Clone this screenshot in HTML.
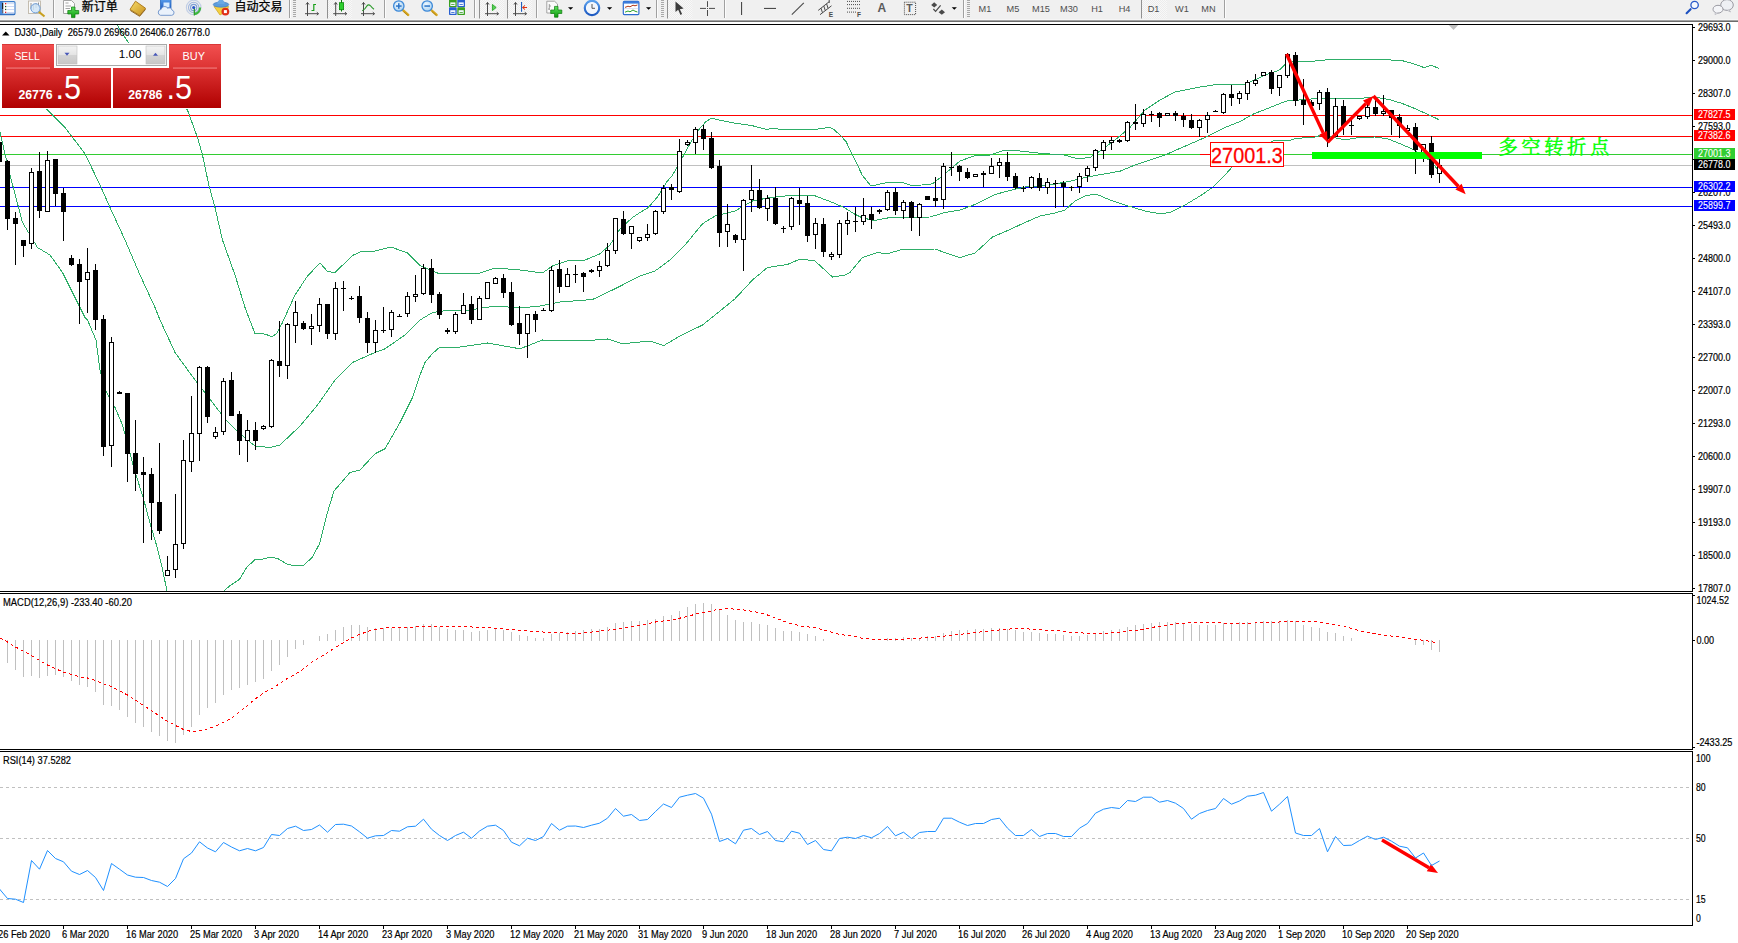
<!DOCTYPE html><html><head><meta charset="utf-8"><title>DJ30 Daily</title>
<style>html,body{margin:0;padding:0;background:#fff;overflow:hidden}svg{display:block}text{font-family:"Liberation Sans","Noto Sans CJK SC",sans-serif}.s{font-size:10px;fill:#000;stroke:#000;stroke-width:0.18px}.w{font-size:10px;fill:#fff;stroke:#fff;stroke-width:0.1px}</style></head><body>
<svg width="1738" height="943" viewBox="0 0 1738 943">
<defs>
<linearGradient id="tb" x1="0" y1="0" x2="0" y2="1"><stop offset="0" stop-color="#7e7e7e"/><stop offset="1" stop-color="#c4c4c4"/></linearGradient>
<linearGradient id="r1" x1="0" y1="0" x2="0" y2="1"><stop offset="0" stop-color="#f25050"/><stop offset="1" stop-color="#dc3232"/></linearGradient>
<linearGradient id="r2" x1="0" y1="0" x2="0" y2="1"><stop offset="0" stop-color="#dc3232"/><stop offset="1" stop-color="#b00000"/></linearGradient>
<linearGradient id="gb" x1="0" y1="0" x2="0" y2="1"><stop offset="0" stop-color="#f4f4f4"/><stop offset="0.5" stop-color="#e4e4e4"/><stop offset="0.5" stop-color="#d4d4d4"/><stop offset="1" stop-color="#c8c8c8"/></linearGradient>
<clipPath id="cm"><rect x="0" y="25" width="1692" height="566"/></clipPath>
</defs>
<rect width="1738" height="943" fill="#fff"/>
<g clip-path="url(#cm)" shape-rendering="crispEdges">
<rect x="0" y="115" width="1692" height="1" fill="#ff0000"/>
<rect x="0" y="136" width="1692" height="1" fill="#ff0000"/>
<rect x="0" y="154" width="1692" height="1" fill="#32cd32"/>
<rect x="0" y="165" width="1692" height="1" fill="#c0c0c0"/>
<rect x="0" y="187" width="1692" height="1" fill="#0000ff"/>
<rect x="0" y="206" width="1692" height="1" fill="#0000ff"/>
<polyline points="112.0,16.0 117.0,24.7 127.5,41.4 150.0,67.0 170.0,90.0 187.5,110.0 197.5,137.5 202.5,155.0 208.8,185.0 215.0,207.5 222.5,240.0 235.0,275.0 245.0,307.5 255.0,333.8 261.0,333.0 267.5,335.0 272.0,337.0 277.0,333.0 282.5,322.5 295.0,295.0 307.5,276.0 320.0,263.0 327.5,271.5 335.0,272.5 352.5,255.5 360.0,252.0 375.0,251.0 391.0,247.0 407.5,253.0 420.0,265.5 430.0,270.0 440.0,274.0 460.0,273.0 480.0,273.0 495.0,268.0 520.0,270.0 542.5,273.0 552.5,266.0 570.0,260.0 585.0,260.0 600.0,253.8 610.0,245.0 620.0,228.8 632.5,217.5 640.0,212.5 648.0,207.8 657.5,197.0 667.0,181.5 672.3,175.5 677.7,166.0 683.0,156.6 691.0,141.8 699.3,129.0 706.0,121.5 712.0,118.0 715.5,119.3 734.3,123.0 751.9,125.6 766.7,129.4 772.0,128.3 781.5,129.4 815.2,129.4 830.0,127.2 834.0,129.6 840.8,135.7 846.2,141.8 851.6,153.2 857.0,164.0 862.4,175.5 871.0,186.0 887.5,182.5 902.5,182.5 912.5,186.0 932.5,183.8 945.0,173.8 960.0,161.0 975.0,155.5 990.0,155.0 1005.0,150.0 1020.0,151.0 1045.0,153.8 1062.5,154.5 1077.5,158.8 1090.0,157.5 1100.0,151.0 1115.0,140.0 1130.0,127.5 1145.0,110.0 1160.0,100.0 1175.0,92.0 1200.0,87.0 1220.0,84.0 1245.0,84.0 1253.5,80.4 1267.0,74.4 1279.0,70.3 1284.5,65.0 1292.0,62.0 1299.3,61.3 1320.9,60.9 1327.6,59.5 1374.8,59.3 1401.7,60.5 1415.2,64.3 1424.0,67.6 1431.4,65.2 1439.2,68.6" fill="none" stroke="#2eae68" stroke-width="1" />
<polyline points="3.0,78.0 20.0,88.0 35.0,99.0 47.5,110.0 65.0,127.5 85.0,153.8 100.0,185.0 110.0,207.5 125.0,240.0 140.0,275.0 155.0,307.5 160.0,320.0 167.0,335.0 175.0,352.5 195.0,380.0 212.5,402.5 225.0,418.8 240.0,433.8 255.0,446.0 270.0,447.5 280.0,445.0 300.0,426.0 317.5,405.0 335.0,380.0 352.5,362.5 375.0,352.5 385.0,348.8 405.0,335.0 420.0,320.0 432.5,312.5 450.0,310.0 470.0,310.0 495.0,306.0 520.0,308.0 540.0,306.0 560.0,302.0 592.5,299.5 615.0,288.8 640.0,276.0 655.0,271.0 670.0,260.0 685.0,245.0 702.5,223.8 715.0,216.0 735.0,211.0 752.5,201.0 770.0,197.5 795.0,195.0 815.0,195.8 832.5,202.5 845.0,208.0 854.5,214.0 862.5,218.0 875.0,220.5 890.0,217.5 907.5,217.5 930.0,217.0 945.0,212.5 960.0,210.0 975.0,204.5 995.0,194.5 1010.0,190.5 1025.0,187.0 1050.0,185.0 1070.0,181.2 1085.0,177.5 1105.0,173.8 1120.0,171.2 1135.0,165.0 1150.0,160.0 1165.0,155.0 1185.0,146.2 1205.0,137.5 1225.0,127.5 1240.0,121.5 1253.5,114.0 1267.0,108.7 1280.4,103.3 1287.0,101.0 1315.5,98.6 1334.3,98.2 1354.6,98.6 1374.8,97.3 1388.2,99.3 1401.7,103.3 1415.2,108.7 1428.7,114.8 1439.2,119.8" fill="none" stroke="#2eae68" stroke-width="1" />
<polyline points="0.0,132.5 10.0,175.0 22.5,222.5 37.5,247.5 50.0,255.0 62.5,272.5 75.0,297.5 85.0,317.5 87.5,320.0 96.0,340.0 100.0,370.0 106.0,391.0 115.0,407.5 122.5,425.0 135.0,472.0 143.0,497.0 151.0,526.6 156.6,545.5 162.0,567.0 167.0,591.0 175.0,640.0 215.0,640.0 224.0,591.0 229.4,586.0 239.5,579.4 247.0,567.0 255.7,559.0 263.0,559.0 271.0,557.0 278.0,558.7 287.0,564.0 295.4,566.0 303.5,565.4 312.0,557.6 319.7,543.5 326.4,516.0 334.0,491.0 350.0,472.5 360.0,470.0 375.0,453.8 385.0,448.8 400.0,422.5 412.5,397.5 420.0,375.0 425.0,362.5 432.0,354.0 438.8,348.0 460.0,347.0 487.5,343.0 520.0,348.8 542.5,340.0 560.0,340.5 582.5,341.0 607.5,339.0 622.5,343.8 650.0,341.0 663.8,345.5 680.0,336.0 702.5,325.0 720.0,311.0 735.0,298.8 752.5,280.0 767.5,267.5 787.5,264.5 800.0,259.0 815.0,261.0 832.5,277.0 845.0,275.0 850.0,272.5 862.5,257.5 877.5,252.5 887.5,253.8 900.0,250.0 935.0,249.0 950.0,254.5 960.0,257.5 975.0,253.0 992.5,237.0 1010.0,229.5 1025.0,222.5 1040.0,216.0 1055.0,213.0 1065.0,210.0 1075.0,201.0 1085.0,196.0 1096.0,194.0 1110.0,200.0 1125.0,205.0 1145.0,211.0 1160.0,213.8 1170.0,212.5 1185.0,205.0 1200.0,196.0 1212.5,187.5 1225.0,175.0 1235.0,163.8 1250.0,155.0 1265.0,145.0 1275.0,140.0 1284.5,140.5 1287.0,141.0 1296.6,138.4 1315.5,137.0 1323.6,134.3 1334.3,137.7 1345.0,139.7 1361.3,137.3 1374.8,137.0 1388.2,139.0 1401.7,144.4 1413.8,149.7 1429.0,160.0 1434.0,165.0 1439.0,171.0" fill="none" stroke="#2eae68" stroke-width="1" />
<rect x="-1" y="140" width="1" height="25" fill="#000"/>
<rect x="-3" y="142" width="5" height="20" fill="#000"/>
<rect x="7" y="160" width="1" height="70" fill="#000"/>
<rect x="5" y="161" width="5" height="58" fill="#000"/>
<rect x="15" y="212" width="1" height="53" fill="#000"/>
<rect x="13" y="218" width="5" height="6" fill="#000"/>
<rect x="23" y="240" width="1" height="17" fill="#000"/>
<rect x="21" y="240" width="5" height="6" fill="#000"/>
<rect x="31" y="168" width="1" height="81" fill="#000"/>
<rect x="29" y="172" width="5" height="72" fill="#000"/>
<rect x="30" y="173" width="3" height="70" fill="#fff"/>
<rect x="39" y="152" width="1" height="66" fill="#000"/>
<rect x="37" y="171" width="5" height="40" fill="#000"/>
<rect x="47" y="151" width="1" height="61" fill="#000"/>
<rect x="45" y="160" width="5" height="52" fill="#000"/>
<rect x="46" y="161" width="3" height="50" fill="#fff"/>
<rect x="55" y="159" width="1" height="47" fill="#000"/>
<rect x="53" y="159" width="5" height="35" fill="#000"/>
<rect x="63" y="188" width="1" height="53" fill="#000"/>
<rect x="61" y="193" width="5" height="19" fill="#000"/>
<rect x="71" y="255" width="1" height="11" fill="#000"/>
<rect x="69" y="258" width="5" height="7" fill="#000"/>
<rect x="79" y="259" width="1" height="65" fill="#000"/>
<rect x="77" y="264" width="5" height="18" fill="#000"/>
<rect x="87" y="248" width="1" height="65" fill="#000"/>
<rect x="85" y="272" width="5" height="8" fill="#000"/>
<rect x="86" y="273" width="3" height="6" fill="#fff"/>
<rect x="95" y="264" width="1" height="66" fill="#000"/>
<rect x="93" y="270" width="5" height="50" fill="#000"/>
<rect x="103" y="315" width="1" height="141" fill="#000"/>
<rect x="101" y="319" width="5" height="128" fill="#000"/>
<rect x="111" y="337" width="1" height="130" fill="#000"/>
<rect x="109" y="342" width="5" height="104" fill="#000"/>
<rect x="110" y="343" width="3" height="102" fill="#fff"/>
<rect x="119" y="391" width="1" height="3" fill="#000"/>
<rect x="117" y="392" width="5" height="2" fill="#000"/>
<rect x="127" y="393" width="1" height="89" fill="#000"/>
<rect x="125" y="393" width="5" height="61" fill="#000"/>
<rect x="135" y="420" width="1" height="71" fill="#000"/>
<rect x="133" y="453" width="5" height="21" fill="#000"/>
<rect x="143" y="457" width="1" height="86" fill="#000"/>
<rect x="141" y="472" width="5" height="3" fill="#000"/>
<rect x="151" y="468" width="1" height="72" fill="#000"/>
<rect x="149" y="474" width="5" height="29" fill="#000"/>
<rect x="159" y="443" width="1" height="91" fill="#000"/>
<rect x="157" y="502" width="5" height="29" fill="#000"/>
<rect x="167" y="556" width="1" height="20" fill="#000"/>
<rect x="165" y="570" width="5" height="6" fill="#000"/>
<rect x="166" y="571" width="3" height="4" fill="#fff"/>
<rect x="175" y="494" width="1" height="84" fill="#000"/>
<rect x="173" y="544" width="5" height="26" fill="#000"/>
<rect x="174" y="545" width="3" height="24" fill="#fff"/>
<rect x="183" y="440" width="1" height="109" fill="#000"/>
<rect x="181" y="460" width="5" height="84" fill="#000"/>
<rect x="182" y="461" width="3" height="82" fill="#fff"/>
<rect x="191" y="396" width="1" height="76" fill="#000"/>
<rect x="189" y="433" width="5" height="29" fill="#000"/>
<rect x="190" y="434" width="3" height="27" fill="#fff"/>
<rect x="199" y="366" width="1" height="95" fill="#000"/>
<rect x="197" y="367" width="5" height="67" fill="#000"/>
<rect x="198" y="368" width="3" height="65" fill="#fff"/>
<rect x="207" y="366" width="1" height="57" fill="#000"/>
<rect x="205" y="367" width="5" height="50" fill="#000"/>
<rect x="215" y="427" width="1" height="12" fill="#000"/>
<rect x="213" y="432" width="5" height="5" fill="#000"/>
<rect x="214" y="433" width="3" height="3" fill="#fff"/>
<rect x="223" y="378" width="1" height="57" fill="#000"/>
<rect x="221" y="381" width="5" height="51" fill="#000"/>
<rect x="222" y="382" width="3" height="49" fill="#fff"/>
<rect x="231" y="372" width="1" height="44" fill="#000"/>
<rect x="229" y="380" width="5" height="36" fill="#000"/>
<rect x="239" y="411" width="1" height="44" fill="#000"/>
<rect x="237" y="414" width="5" height="27" fill="#000"/>
<rect x="247" y="420" width="1" height="42" fill="#000"/>
<rect x="245" y="430" width="5" height="11" fill="#000"/>
<rect x="246" y="431" width="3" height="9" fill="#fff"/>
<rect x="255" y="422" width="1" height="28" fill="#000"/>
<rect x="253" y="430" width="5" height="11" fill="#000"/>
<rect x="263" y="425" width="1" height="5" fill="#000"/>
<rect x="261" y="426" width="5" height="3" fill="#000"/>
<rect x="262" y="427" width="3" height="1" fill="#fff"/>
<rect x="271" y="359" width="1" height="69" fill="#000"/>
<rect x="269" y="360" width="5" height="67" fill="#000"/>
<rect x="270" y="361" width="3" height="65" fill="#fff"/>
<rect x="279" y="321" width="1" height="56" fill="#000"/>
<rect x="277" y="361" width="5" height="5" fill="#000"/>
<rect x="287" y="323" width="1" height="56" fill="#000"/>
<rect x="285" y="324" width="5" height="42" fill="#000"/>
<rect x="286" y="325" width="3" height="40" fill="#fff"/>
<rect x="295" y="301" width="1" height="42" fill="#000"/>
<rect x="293" y="312" width="5" height="14" fill="#000"/>
<rect x="294" y="313" width="3" height="12" fill="#fff"/>
<rect x="303" y="321" width="1" height="9" fill="#000"/>
<rect x="301" y="323" width="5" height="6" fill="#000"/>
<rect x="311" y="314" width="1" height="31" fill="#000"/>
<rect x="309" y="326" width="5" height="3" fill="#000"/>
<rect x="310" y="327" width="3" height="1" fill="#fff"/>
<rect x="319" y="298" width="1" height="34" fill="#000"/>
<rect x="317" y="304" width="5" height="22" fill="#000"/>
<rect x="318" y="305" width="3" height="20" fill="#fff"/>
<rect x="327" y="304" width="1" height="35" fill="#000"/>
<rect x="325" y="304" width="5" height="30" fill="#000"/>
<rect x="335" y="282" width="1" height="58" fill="#000"/>
<rect x="333" y="288" width="5" height="46" fill="#000"/>
<rect x="334" y="289" width="3" height="44" fill="#fff"/>
<rect x="343" y="281" width="1" height="30" fill="#000"/>
<rect x="341" y="288" width="5" height="1" fill="#000"/>
<rect x="351" y="296" width="1" height="4" fill="#000"/>
<rect x="349" y="298" width="5" height="1" fill="#000"/>
<rect x="359" y="286" width="1" height="37" fill="#000"/>
<rect x="357" y="296" width="5" height="22" fill="#000"/>
<rect x="367" y="312" width="1" height="41" fill="#000"/>
<rect x="365" y="318" width="5" height="25" fill="#000"/>
<rect x="375" y="320" width="1" height="33" fill="#000"/>
<rect x="373" y="330" width="5" height="13" fill="#000"/>
<rect x="374" y="331" width="3" height="11" fill="#fff"/>
<rect x="383" y="307" width="1" height="26" fill="#000"/>
<rect x="381" y="330" width="5" height="1" fill="#000"/>
<rect x="391" y="310" width="1" height="27" fill="#000"/>
<rect x="389" y="312" width="5" height="18" fill="#000"/>
<rect x="390" y="313" width="3" height="16" fill="#fff"/>
<rect x="399" y="314" width="1" height="2" fill="#000"/>
<rect x="397" y="316" width="5" height="1" fill="#000"/>
<rect x="407" y="292" width="1" height="25" fill="#000"/>
<rect x="405" y="296" width="5" height="18" fill="#000"/>
<rect x="406" y="297" width="3" height="16" fill="#fff"/>
<rect x="415" y="275" width="1" height="27" fill="#000"/>
<rect x="413" y="294" width="5" height="3" fill="#000"/>
<rect x="414" y="295" width="3" height="1" fill="#fff"/>
<rect x="423" y="264" width="1" height="31" fill="#000"/>
<rect x="421" y="268" width="5" height="26" fill="#000"/>
<rect x="422" y="269" width="3" height="24" fill="#fff"/>
<rect x="431" y="259" width="1" height="44" fill="#000"/>
<rect x="429" y="268" width="5" height="27" fill="#000"/>
<rect x="439" y="292" width="1" height="27" fill="#000"/>
<rect x="437" y="294" width="5" height="21" fill="#000"/>
<rect x="447" y="328" width="1" height="6" fill="#000"/>
<rect x="445" y="330" width="5" height="2" fill="#000"/>
<rect x="455" y="312" width="1" height="22" fill="#000"/>
<rect x="453" y="314" width="5" height="18" fill="#000"/>
<rect x="454" y="315" width="3" height="16" fill="#fff"/>
<rect x="463" y="293" width="1" height="21" fill="#000"/>
<rect x="461" y="305" width="5" height="9" fill="#000"/>
<rect x="462" y="306" width="3" height="7" fill="#fff"/>
<rect x="471" y="296" width="1" height="28" fill="#000"/>
<rect x="469" y="304" width="5" height="16" fill="#000"/>
<rect x="479" y="296" width="1" height="24" fill="#000"/>
<rect x="477" y="298" width="5" height="22" fill="#000"/>
<rect x="478" y="299" width="3" height="20" fill="#fff"/>
<rect x="487" y="282" width="1" height="17" fill="#000"/>
<rect x="485" y="282" width="5" height="17" fill="#000"/>
<rect x="486" y="283" width="3" height="15" fill="#fff"/>
<rect x="495" y="277" width="1" height="7" fill="#000"/>
<rect x="493" y="278" width="5" height="6" fill="#000"/>
<rect x="494" y="279" width="3" height="4" fill="#fff"/>
<rect x="503" y="274" width="1" height="24" fill="#000"/>
<rect x="501" y="278" width="5" height="15" fill="#000"/>
<rect x="511" y="282" width="1" height="44" fill="#000"/>
<rect x="509" y="292" width="5" height="33" fill="#000"/>
<rect x="519" y="306" width="1" height="39" fill="#000"/>
<rect x="517" y="323" width="5" height="11" fill="#000"/>
<rect x="527" y="314" width="1" height="44" fill="#000"/>
<rect x="525" y="314" width="5" height="20" fill="#000"/>
<rect x="526" y="315" width="3" height="18" fill="#fff"/>
<rect x="535" y="311" width="1" height="21" fill="#000"/>
<rect x="533" y="314" width="5" height="6" fill="#000"/>
<rect x="543" y="308" width="1" height="2" fill="#000"/>
<rect x="541" y="310" width="5" height="1" fill="#000"/>
<rect x="551" y="266" width="1" height="46" fill="#000"/>
<rect x="549" y="270" width="5" height="41" fill="#000"/>
<rect x="550" y="271" width="3" height="39" fill="#fff"/>
<rect x="559" y="260" width="1" height="33" fill="#000"/>
<rect x="557" y="269" width="5" height="18" fill="#000"/>
<rect x="567" y="268" width="1" height="19" fill="#000"/>
<rect x="565" y="274" width="5" height="13" fill="#000"/>
<rect x="566" y="275" width="3" height="11" fill="#fff"/>
<rect x="575" y="265" width="1" height="18" fill="#000"/>
<rect x="573" y="274" width="5" height="1" fill="#000"/>
<rect x="583" y="272" width="1" height="20" fill="#000"/>
<rect x="581" y="273" width="5" height="4" fill="#000"/>
<rect x="591" y="269" width="1" height="4" fill="#000"/>
<rect x="589" y="270" width="5" height="2" fill="#000"/>
<rect x="599" y="261" width="1" height="16" fill="#000"/>
<rect x="597" y="266" width="5" height="5" fill="#000"/>
<rect x="598" y="267" width="3" height="3" fill="#fff"/>
<rect x="607" y="243" width="1" height="24" fill="#000"/>
<rect x="605" y="250" width="5" height="16" fill="#000"/>
<rect x="606" y="251" width="3" height="14" fill="#fff"/>
<rect x="615" y="218" width="1" height="36" fill="#000"/>
<rect x="613" y="218" width="5" height="33" fill="#000"/>
<rect x="614" y="219" width="3" height="31" fill="#fff"/>
<rect x="623" y="211" width="1" height="24" fill="#000"/>
<rect x="621" y="219" width="5" height="15" fill="#000"/>
<rect x="631" y="226" width="1" height="23" fill="#000"/>
<rect x="629" y="226" width="5" height="8" fill="#000"/>
<rect x="630" y="227" width="3" height="6" fill="#fff"/>
<rect x="639" y="237" width="1" height="5" fill="#000"/>
<rect x="637" y="237" width="5" height="4" fill="#000"/>
<rect x="638" y="238" width="3" height="2" fill="#fff"/>
<rect x="647" y="224" width="1" height="17" fill="#000"/>
<rect x="645" y="234" width="5" height="4" fill="#000"/>
<rect x="646" y="235" width="3" height="2" fill="#fff"/>
<rect x="655" y="210" width="1" height="25" fill="#000"/>
<rect x="653" y="211" width="5" height="23" fill="#000"/>
<rect x="654" y="212" width="3" height="21" fill="#fff"/>
<rect x="663" y="185" width="1" height="29" fill="#000"/>
<rect x="661" y="188" width="5" height="24" fill="#000"/>
<rect x="662" y="189" width="3" height="22" fill="#fff"/>
<rect x="671" y="184" width="1" height="16" fill="#000"/>
<rect x="669" y="187" width="5" height="3" fill="#000"/>
<rect x="679" y="139" width="1" height="54" fill="#000"/>
<rect x="677" y="151" width="5" height="41" fill="#000"/>
<rect x="678" y="152" width="3" height="39" fill="#fff"/>
<rect x="687" y="140" width="1" height="6" fill="#000"/>
<rect x="685" y="142" width="5" height="3" fill="#000"/>
<rect x="686" y="143" width="3" height="1" fill="#fff"/>
<rect x="695" y="127" width="1" height="27" fill="#000"/>
<rect x="693" y="129" width="5" height="14" fill="#000"/>
<rect x="694" y="130" width="3" height="12" fill="#fff"/>
<rect x="703" y="125" width="1" height="25" fill="#000"/>
<rect x="701" y="129" width="5" height="10" fill="#000"/>
<rect x="711" y="132" width="1" height="37" fill="#000"/>
<rect x="709" y="138" width="5" height="30" fill="#000"/>
<rect x="719" y="160" width="1" height="87" fill="#000"/>
<rect x="717" y="166" width="5" height="67" fill="#000"/>
<rect x="727" y="204" width="1" height="43" fill="#000"/>
<rect x="725" y="224" width="5" height="8" fill="#000"/>
<rect x="726" y="225" width="3" height="6" fill="#fff"/>
<rect x="735" y="234" width="1" height="9" fill="#000"/>
<rect x="733" y="235" width="5" height="5" fill="#000"/>
<rect x="743" y="199" width="1" height="72" fill="#000"/>
<rect x="741" y="200" width="5" height="40" fill="#000"/>
<rect x="742" y="201" width="3" height="38" fill="#fff"/>
<rect x="751" y="165" width="1" height="47" fill="#000"/>
<rect x="749" y="190" width="5" height="10" fill="#000"/>
<rect x="750" y="191" width="3" height="8" fill="#fff"/>
<rect x="759" y="179" width="1" height="30" fill="#000"/>
<rect x="757" y="190" width="5" height="18" fill="#000"/>
<rect x="767" y="195" width="1" height="26" fill="#000"/>
<rect x="765" y="198" width="5" height="11" fill="#000"/>
<rect x="766" y="199" width="3" height="9" fill="#fff"/>
<rect x="775" y="187" width="1" height="38" fill="#000"/>
<rect x="773" y="198" width="5" height="26" fill="#000"/>
<rect x="783" y="226" width="1" height="7" fill="#000"/>
<rect x="781" y="228" width="5" height="1" fill="#000"/>
<rect x="791" y="197" width="1" height="33" fill="#000"/>
<rect x="789" y="198" width="5" height="29" fill="#000"/>
<rect x="790" y="199" width="3" height="27" fill="#fff"/>
<rect x="799" y="188" width="1" height="37" fill="#000"/>
<rect x="797" y="200" width="5" height="4" fill="#000"/>
<rect x="807" y="196" width="1" height="46" fill="#000"/>
<rect x="805" y="203" width="5" height="33" fill="#000"/>
<rect x="815" y="218" width="1" height="31" fill="#000"/>
<rect x="813" y="223" width="5" height="12" fill="#000"/>
<rect x="814" y="224" width="3" height="10" fill="#fff"/>
<rect x="823" y="218" width="1" height="39" fill="#000"/>
<rect x="821" y="224" width="5" height="28" fill="#000"/>
<rect x="831" y="252" width="1" height="8" fill="#000"/>
<rect x="829" y="254" width="5" height="3" fill="#000"/>
<rect x="830" y="255" width="3" height="1" fill="#fff"/>
<rect x="839" y="220" width="1" height="38" fill="#000"/>
<rect x="837" y="223" width="5" height="32" fill="#000"/>
<rect x="838" y="224" width="3" height="30" fill="#fff"/>
<rect x="847" y="212" width="1" height="23" fill="#000"/>
<rect x="845" y="220" width="5" height="4" fill="#000"/>
<rect x="846" y="221" width="3" height="2" fill="#fff"/>
<rect x="855" y="207" width="1" height="25" fill="#000"/>
<rect x="853" y="221" width="5" height="1" fill="#000"/>
<rect x="863" y="198" width="1" height="27" fill="#000"/>
<rect x="861" y="215" width="5" height="7" fill="#000"/>
<rect x="862" y="216" width="3" height="5" fill="#fff"/>
<rect x="871" y="207" width="1" height="22" fill="#000"/>
<rect x="869" y="214" width="5" height="6" fill="#000"/>
<rect x="879" y="209" width="1" height="5" fill="#000"/>
<rect x="877" y="210" width="5" height="2" fill="#000"/>
<rect x="887" y="190" width="1" height="21" fill="#000"/>
<rect x="885" y="192" width="5" height="18" fill="#000"/>
<rect x="886" y="193" width="3" height="16" fill="#fff"/>
<rect x="895" y="188" width="1" height="27" fill="#000"/>
<rect x="893" y="192" width="5" height="19" fill="#000"/>
<rect x="903" y="200" width="1" height="19" fill="#000"/>
<rect x="901" y="202" width="5" height="9" fill="#000"/>
<rect x="902" y="203" width="3" height="7" fill="#fff"/>
<rect x="911" y="201" width="1" height="30" fill="#000"/>
<rect x="909" y="202" width="5" height="16" fill="#000"/>
<rect x="919" y="203" width="1" height="33" fill="#000"/>
<rect x="917" y="204" width="5" height="14" fill="#000"/>
<rect x="918" y="205" width="3" height="12" fill="#fff"/>
<rect x="927" y="196" width="1" height="4" fill="#000"/>
<rect x="925" y="196" width="5" height="4" fill="#000"/>
<rect x="935" y="177" width="1" height="30" fill="#000"/>
<rect x="933" y="198" width="5" height="3" fill="#000"/>
<rect x="943" y="163" width="1" height="46" fill="#000"/>
<rect x="941" y="166" width="5" height="34" fill="#000"/>
<rect x="942" y="167" width="3" height="32" fill="#fff"/>
<rect x="951" y="152" width="1" height="24" fill="#000"/>
<rect x="949" y="167" width="5" height="1" fill="#000"/>
<rect x="959" y="165" width="1" height="16" fill="#000"/>
<rect x="957" y="166" width="5" height="6" fill="#000"/>
<rect x="967" y="168" width="1" height="11" fill="#000"/>
<rect x="965" y="172" width="5" height="6" fill="#000"/>
<rect x="975" y="174" width="1" height="3" fill="#000"/>
<rect x="973" y="174" width="5" height="3" fill="#000"/>
<rect x="974" y="175" width="3" height="1" fill="#fff"/>
<rect x="983" y="171" width="1" height="16" fill="#000"/>
<rect x="981" y="173" width="5" height="2" fill="#000"/>
<rect x="991" y="158" width="1" height="16" fill="#000"/>
<rect x="989" y="166" width="5" height="8" fill="#000"/>
<rect x="990" y="167" width="3" height="6" fill="#fff"/>
<rect x="999" y="158" width="1" height="20" fill="#000"/>
<rect x="997" y="162" width="5" height="4" fill="#000"/>
<rect x="998" y="163" width="3" height="2" fill="#fff"/>
<rect x="1007" y="152" width="1" height="29" fill="#000"/>
<rect x="1005" y="162" width="5" height="15" fill="#000"/>
<rect x="1015" y="173" width="1" height="16" fill="#000"/>
<rect x="1013" y="176" width="5" height="12" fill="#000"/>
<rect x="1023" y="186" width="1" height="6" fill="#000"/>
<rect x="1021" y="188" width="5" height="1" fill="#000"/>
<rect x="1031" y="176" width="1" height="13" fill="#000"/>
<rect x="1029" y="177" width="5" height="11" fill="#000"/>
<rect x="1030" y="178" width="3" height="9" fill="#fff"/>
<rect x="1039" y="173" width="1" height="18" fill="#000"/>
<rect x="1037" y="178" width="5" height="10" fill="#000"/>
<rect x="1047" y="178" width="1" height="16" fill="#000"/>
<rect x="1045" y="182" width="5" height="6" fill="#000"/>
<rect x="1046" y="183" width="3" height="4" fill="#fff"/>
<rect x="1055" y="180" width="1" height="28" fill="#000"/>
<rect x="1053" y="183" width="5" height="1" fill="#000"/>
<rect x="1063" y="181" width="1" height="26" fill="#000"/>
<rect x="1061" y="183" width="5" height="4" fill="#000"/>
<rect x="1071" y="186" width="1" height="5" fill="#000"/>
<rect x="1069" y="187" width="5" height="1" fill="#000"/>
<rect x="1079" y="173" width="1" height="20" fill="#000"/>
<rect x="1077" y="176" width="5" height="11" fill="#000"/>
<rect x="1078" y="177" width="3" height="9" fill="#fff"/>
<rect x="1087" y="166" width="1" height="16" fill="#000"/>
<rect x="1085" y="168" width="5" height="8" fill="#000"/>
<rect x="1086" y="169" width="3" height="6" fill="#fff"/>
<rect x="1095" y="149" width="1" height="22" fill="#000"/>
<rect x="1093" y="150" width="5" height="18" fill="#000"/>
<rect x="1094" y="151" width="3" height="16" fill="#fff"/>
<rect x="1103" y="140" width="1" height="19" fill="#000"/>
<rect x="1101" y="142" width="5" height="9" fill="#000"/>
<rect x="1102" y="143" width="3" height="7" fill="#fff"/>
<rect x="1111" y="137" width="1" height="13" fill="#000"/>
<rect x="1109" y="140" width="5" height="3" fill="#000"/>
<rect x="1110" y="141" width="3" height="1" fill="#fff"/>
<rect x="1119" y="139" width="1" height="4" fill="#000"/>
<rect x="1117" y="140" width="5" height="2" fill="#000"/>
<rect x="1127" y="121" width="1" height="21" fill="#000"/>
<rect x="1125" y="122" width="5" height="19" fill="#000"/>
<rect x="1126" y="123" width="3" height="17" fill="#fff"/>
<rect x="1135" y="104" width="1" height="26" fill="#000"/>
<rect x="1133" y="122" width="5" height="2" fill="#000"/>
<rect x="1143" y="109" width="1" height="18" fill="#000"/>
<rect x="1141" y="114" width="5" height="10" fill="#000"/>
<rect x="1142" y="115" width="3" height="8" fill="#fff"/>
<rect x="1151" y="111" width="1" height="11" fill="#000"/>
<rect x="1149" y="114" width="5" height="1" fill="#000"/>
<rect x="1159" y="112" width="1" height="15" fill="#000"/>
<rect x="1157" y="113" width="5" height="5" fill="#000"/>
<rect x="1167" y="113" width="1" height="2" fill="#000"/>
<rect x="1165" y="113" width="5" height="3" fill="#000"/>
<rect x="1166" y="114" width="3" height="1" fill="#fff"/>
<rect x="1175" y="111" width="1" height="10" fill="#000"/>
<rect x="1173" y="113" width="5" height="3" fill="#000"/>
<rect x="1183" y="113" width="1" height="14" fill="#000"/>
<rect x="1181" y="116" width="5" height="4" fill="#000"/>
<rect x="1191" y="114" width="1" height="15" fill="#000"/>
<rect x="1189" y="120" width="5" height="8" fill="#000"/>
<rect x="1199" y="119" width="1" height="18" fill="#000"/>
<rect x="1197" y="120" width="5" height="8" fill="#000"/>
<rect x="1198" y="121" width="3" height="6" fill="#fff"/>
<rect x="1207" y="112" width="1" height="21" fill="#000"/>
<rect x="1205" y="115" width="5" height="5" fill="#000"/>
<rect x="1206" y="116" width="3" height="3" fill="#fff"/>
<rect x="1215" y="110" width="1" height="2" fill="#000"/>
<rect x="1213" y="111" width="5" height="1" fill="#000"/>
<rect x="1223" y="93" width="1" height="21" fill="#000"/>
<rect x="1221" y="94" width="5" height="19" fill="#000"/>
<rect x="1222" y="95" width="3" height="17" fill="#fff"/>
<rect x="1231" y="85" width="1" height="21" fill="#000"/>
<rect x="1229" y="94" width="5" height="4" fill="#000"/>
<rect x="1239" y="91" width="1" height="13" fill="#000"/>
<rect x="1237" y="93" width="5" height="6" fill="#000"/>
<rect x="1238" y="94" width="3" height="4" fill="#fff"/>
<rect x="1247" y="80" width="1" height="20" fill="#000"/>
<rect x="1245" y="82" width="5" height="12" fill="#000"/>
<rect x="1246" y="83" width="3" height="10" fill="#fff"/>
<rect x="1255" y="74" width="1" height="12" fill="#000"/>
<rect x="1253" y="80" width="5" height="4" fill="#000"/>
<rect x="1254" y="81" width="3" height="2" fill="#fff"/>
<rect x="1263" y="72" width="1" height="4" fill="#000"/>
<rect x="1261" y="72" width="5" height="4" fill="#000"/>
<rect x="1262" y="73" width="3" height="2" fill="#fff"/>
<rect x="1271" y="70" width="1" height="24" fill="#000"/>
<rect x="1269" y="72" width="5" height="17" fill="#000"/>
<rect x="1279" y="75" width="1" height="21" fill="#000"/>
<rect x="1277" y="75" width="5" height="13" fill="#000"/>
<rect x="1278" y="76" width="3" height="11" fill="#fff"/>
<rect x="1287" y="53" width="1" height="25" fill="#000"/>
<rect x="1285" y="54" width="5" height="22" fill="#000"/>
<rect x="1286" y="55" width="3" height="20" fill="#fff"/>
<rect x="1295" y="52" width="1" height="54" fill="#000"/>
<rect x="1293" y="55" width="5" height="46" fill="#000"/>
<rect x="1303" y="79" width="1" height="46" fill="#000"/>
<rect x="1301" y="100" width="5" height="5" fill="#000"/>
<rect x="1311" y="100" width="1" height="7" fill="#000"/>
<rect x="1309" y="102" width="5" height="4" fill="#000"/>
<rect x="1319" y="90" width="1" height="20" fill="#000"/>
<rect x="1317" y="92" width="5" height="12" fill="#000"/>
<rect x="1318" y="93" width="3" height="10" fill="#fff"/>
<rect x="1327" y="88" width="1" height="59" fill="#000"/>
<rect x="1325" y="92" width="5" height="47" fill="#000"/>
<rect x="1335" y="98" width="1" height="39" fill="#000"/>
<rect x="1333" y="106" width="5" height="31" fill="#000"/>
<rect x="1334" y="107" width="3" height="29" fill="#fff"/>
<rect x="1343" y="100" width="1" height="35" fill="#000"/>
<rect x="1341" y="106" width="5" height="20" fill="#000"/>
<rect x="1351" y="120" width="1" height="15" fill="#000"/>
<rect x="1349" y="125" width="5" height="1" fill="#000"/>
<rect x="1359" y="116" width="1" height="4" fill="#000"/>
<rect x="1357" y="116" width="5" height="3" fill="#000"/>
<rect x="1358" y="117" width="3" height="1" fill="#fff"/>
<rect x="1367" y="103" width="1" height="16" fill="#000"/>
<rect x="1365" y="107" width="5" height="10" fill="#000"/>
<rect x="1366" y="108" width="3" height="8" fill="#fff"/>
<rect x="1375" y="96" width="1" height="20" fill="#000"/>
<rect x="1373" y="107" width="5" height="7" fill="#000"/>
<rect x="1383" y="95" width="1" height="21" fill="#000"/>
<rect x="1381" y="111" width="5" height="3" fill="#000"/>
<rect x="1382" y="112" width="3" height="1" fill="#fff"/>
<rect x="1391" y="110" width="1" height="25" fill="#000"/>
<rect x="1389" y="110" width="5" height="8" fill="#000"/>
<rect x="1399" y="114" width="1" height="24" fill="#000"/>
<rect x="1397" y="117" width="5" height="9" fill="#000"/>
<rect x="1407" y="125" width="1" height="5" fill="#000"/>
<rect x="1405" y="128" width="5" height="3" fill="#000"/>
<rect x="1406" y="129" width="3" height="1" fill="#fff"/>
<rect x="1415" y="123" width="1" height="51" fill="#000"/>
<rect x="1413" y="127" width="5" height="23" fill="#000"/>
<rect x="1423" y="144" width="1" height="18" fill="#000"/>
<rect x="1421" y="144" width="5" height="11" fill="#000"/>
<rect x="1422" y="145" width="3" height="9" fill="#fff"/>
<rect x="1431" y="136" width="1" height="42" fill="#000"/>
<rect x="1429" y="143" width="5" height="32" fill="#000"/>
<rect x="1439" y="157" width="1" height="26" fill="#000"/>
<rect x="1437" y="165" width="5" height="9" fill="#000"/>
<rect x="1438" y="166" width="3" height="7" fill="#fff"/>
</g>
<g>
<rect x="1200" y="154" width="11" height="1" fill="#ff0000" shape-rendering="crispEdges"/>
<rect x="1210.5" y="142.5" width="73" height="24" fill="#fff" stroke="#ff0000" stroke-width="1" shape-rendering="crispEdges"/>
<text x="1211.1" y="163" font-size="22.4" fill="#ff0000" stroke="#ff0000" stroke-width="0.3" textLength="71.6" lengthAdjust="spacingAndGlyphs">27001.3</text>
<rect x="1312" y="152" width="170" height="7" fill="#00ff00" shape-rendering="crispEdges"/>
<text x="1498.4 1521.3 1544.2 1567.1 1590" y="153.5" font-size="19.3" fill="#00ff00" stroke="#00ff00" stroke-width="0.45" style="font-family:'Noto Serif CJK SC','Noto Sans CJK SC',serif">多空转折点</text>
<line x1="1286.5" y1="54.0" x2="1323.2" y2="132.9" stroke="#ff0000" stroke-width="3.4"/>
<polygon points="1327.6,142.4 1319.4,134.6 1327.0,131.1" fill="#ff0000"/>
<line x1="1327.6" y1="142.4" x2="1366.0" y2="103.5" stroke="#ff0000" stroke-width="3.4"/>
<polygon points="1373.4,96.0 1369.0,106.4 1363.0,100.5" fill="#ff0000"/>
<line x1="1373.4" y1="96.0" x2="1458.5" y2="186.5" stroke="#ff0000" stroke-width="3.4"/>
<polygon points="1465.7,194.2 1455.4,189.4 1461.6,183.7" fill="#ff0000"/>
<line x1="1382.0" y1="840.0" x2="1429.0" y2="867.7" stroke="#ff0000" stroke-width="3.4"/>
<polygon points="1438.0,873.0 1426.8,871.3 1431.1,864.1" fill="#ff0000"/>
</g>
<g shape-rendering="crispEdges">
<rect x="7" y="640" width="1" height="23" fill="#c0c0c0"/>
<rect x="15" y="640" width="1" height="30" fill="#c0c0c0"/>
<rect x="23" y="640" width="1" height="37" fill="#c0c0c0"/>
<rect x="31" y="640" width="1" height="36" fill="#c0c0c0"/>
<rect x="39" y="640" width="1" height="38" fill="#c0c0c0"/>
<rect x="47" y="640" width="1" height="36" fill="#c0c0c0"/>
<rect x="55" y="640" width="1" height="35" fill="#c0c0c0"/>
<rect x="63" y="640" width="1" height="37" fill="#c0c0c0"/>
<rect x="71" y="640" width="1" height="41" fill="#c0c0c0"/>
<rect x="79" y="640" width="1" height="45" fill="#c0c0c0"/>
<rect x="87" y="640" width="1" height="47" fill="#c0c0c0"/>
<rect x="95" y="640" width="1" height="52" fill="#c0c0c0"/>
<rect x="103" y="640" width="1" height="65" fill="#c0c0c0"/>
<rect x="111" y="640" width="1" height="66" fill="#c0c0c0"/>
<rect x="119" y="640" width="1" height="70" fill="#c0c0c0"/>
<rect x="127" y="640" width="1" height="77" fill="#c0c0c0"/>
<rect x="135" y="640" width="1" height="83" fill="#c0c0c0"/>
<rect x="143" y="640" width="1" height="87" fill="#c0c0c0"/>
<rect x="151" y="640" width="1" height="92" fill="#c0c0c0"/>
<rect x="159" y="640" width="1" height="96" fill="#c0c0c0"/>
<rect x="167" y="640" width="1" height="101" fill="#c0c0c0"/>
<rect x="175" y="640" width="1" height="103" fill="#c0c0c0"/>
<rect x="183" y="640" width="1" height="95" fill="#c0c0c0"/>
<rect x="191" y="640" width="1" height="87" fill="#c0c0c0"/>
<rect x="199" y="640" width="1" height="75" fill="#c0c0c0"/>
<rect x="207" y="640" width="1" height="68" fill="#c0c0c0"/>
<rect x="215" y="640" width="1" height="63" fill="#c0c0c0"/>
<rect x="223" y="640" width="1" height="55" fill="#c0c0c0"/>
<rect x="231" y="640" width="1" height="50" fill="#c0c0c0"/>
<rect x="239" y="640" width="1" height="48" fill="#c0c0c0"/>
<rect x="247" y="640" width="1" height="45" fill="#c0c0c0"/>
<rect x="255" y="640" width="1" height="42" fill="#c0c0c0"/>
<rect x="263" y="640" width="1" height="39" fill="#c0c0c0"/>
<rect x="271" y="640" width="1" height="31" fill="#c0c0c0"/>
<rect x="279" y="640" width="1" height="25" fill="#c0c0c0"/>
<rect x="287" y="640" width="1" height="17" fill="#c0c0c0"/>
<rect x="295" y="640" width="1" height="9" fill="#c0c0c0"/>
<rect x="303" y="640" width="1" height="5" fill="#c0c0c0"/>
<rect x="319" y="636" width="1" height="5" fill="#c0c0c0"/>
<rect x="327" y="634" width="1" height="7" fill="#c0c0c0"/>
<rect x="335" y="630" width="1" height="11" fill="#c0c0c0"/>
<rect x="343" y="627" width="1" height="14" fill="#c0c0c0"/>
<rect x="351" y="625" width="1" height="16" fill="#c0c0c0"/>
<rect x="359" y="625" width="1" height="16" fill="#c0c0c0"/>
<rect x="367" y="627" width="1" height="14" fill="#c0c0c0"/>
<rect x="375" y="628" width="1" height="13" fill="#c0c0c0"/>
<rect x="383" y="628" width="1" height="13" fill="#c0c0c0"/>
<rect x="391" y="628" width="1" height="13" fill="#c0c0c0"/>
<rect x="399" y="628" width="1" height="13" fill="#c0c0c0"/>
<rect x="407" y="627" width="1" height="14" fill="#c0c0c0"/>
<rect x="415" y="626" width="1" height="15" fill="#c0c0c0"/>
<rect x="423" y="624" width="1" height="17" fill="#c0c0c0"/>
<rect x="431" y="624" width="1" height="17" fill="#c0c0c0"/>
<rect x="439" y="627" width="1" height="14" fill="#c0c0c0"/>
<rect x="447" y="629" width="1" height="12" fill="#c0c0c0"/>
<rect x="455" y="630" width="1" height="11" fill="#c0c0c0"/>
<rect x="463" y="630" width="1" height="11" fill="#c0c0c0"/>
<rect x="471" y="632" width="1" height="9" fill="#c0c0c0"/>
<rect x="479" y="631" width="1" height="10" fill="#c0c0c0"/>
<rect x="487" y="630" width="1" height="11" fill="#c0c0c0"/>
<rect x="495" y="629" width="1" height="12" fill="#c0c0c0"/>
<rect x="503" y="630" width="1" height="11" fill="#c0c0c0"/>
<rect x="511" y="632" width="1" height="9" fill="#c0c0c0"/>
<rect x="519" y="635" width="1" height="6" fill="#c0c0c0"/>
<rect x="527" y="636" width="1" height="5" fill="#c0c0c0"/>
<rect x="535" y="638" width="1" height="3" fill="#c0c0c0"/>
<rect x="543" y="638" width="1" height="3" fill="#c0c0c0"/>
<rect x="551" y="634" width="1" height="7" fill="#c0c0c0"/>
<rect x="559" y="633" width="1" height="8" fill="#c0c0c0"/>
<rect x="567" y="632" width="1" height="9" fill="#c0c0c0"/>
<rect x="575" y="631" width="1" height="10" fill="#c0c0c0"/>
<rect x="583" y="630" width="1" height="11" fill="#c0c0c0"/>
<rect x="591" y="629" width="1" height="12" fill="#c0c0c0"/>
<rect x="599" y="629" width="1" height="12" fill="#c0c0c0"/>
<rect x="607" y="627" width="1" height="14" fill="#c0c0c0"/>
<rect x="615" y="623" width="1" height="18" fill="#c0c0c0"/>
<rect x="623" y="622" width="1" height="19" fill="#c0c0c0"/>
<rect x="631" y="621" width="1" height="20" fill="#c0c0c0"/>
<rect x="639" y="621" width="1" height="20" fill="#c0c0c0"/>
<rect x="647" y="620" width="1" height="21" fill="#c0c0c0"/>
<rect x="655" y="619" width="1" height="22" fill="#c0c0c0"/>
<rect x="663" y="616" width="1" height="25" fill="#c0c0c0"/>
<rect x="671" y="615" width="1" height="26" fill="#c0c0c0"/>
<rect x="679" y="611" width="1" height="30" fill="#c0c0c0"/>
<rect x="687" y="607" width="1" height="34" fill="#c0c0c0"/>
<rect x="695" y="604" width="1" height="37" fill="#c0c0c0"/>
<rect x="703" y="603" width="1" height="38" fill="#c0c0c0"/>
<rect x="711" y="604" width="1" height="37" fill="#c0c0c0"/>
<rect x="719" y="610" width="1" height="31" fill="#c0c0c0"/>
<rect x="727" y="615" width="1" height="26" fill="#c0c0c0"/>
<rect x="735" y="620" width="1" height="21" fill="#c0c0c0"/>
<rect x="743" y="622" width="1" height="19" fill="#c0c0c0"/>
<rect x="751" y="622" width="1" height="19" fill="#c0c0c0"/>
<rect x="759" y="624" width="1" height="17" fill="#c0c0c0"/>
<rect x="767" y="625" width="1" height="16" fill="#c0c0c0"/>
<rect x="775" y="628" width="1" height="13" fill="#c0c0c0"/>
<rect x="783" y="631" width="1" height="10" fill="#c0c0c0"/>
<rect x="791" y="631" width="1" height="10" fill="#c0c0c0"/>
<rect x="799" y="632" width="1" height="9" fill="#c0c0c0"/>
<rect x="807" y="634" width="1" height="7" fill="#c0c0c0"/>
<rect x="815" y="636" width="1" height="5" fill="#c0c0c0"/>
<rect x="823" y="639" width="1" height="2" fill="#c0c0c0"/>
<rect x="887" y="638" width="1" height="3" fill="#c0c0c0"/>
<rect x="895" y="638" width="1" height="3" fill="#c0c0c0"/>
<rect x="903" y="637" width="1" height="4" fill="#c0c0c0"/>
<rect x="911" y="638" width="1" height="3" fill="#c0c0c0"/>
<rect x="919" y="638" width="1" height="3" fill="#c0c0c0"/>
<rect x="927" y="636" width="1" height="5" fill="#c0c0c0"/>
<rect x="935" y="636" width="1" height="5" fill="#c0c0c0"/>
<rect x="943" y="633" width="1" height="8" fill="#c0c0c0"/>
<rect x="951" y="631" width="1" height="10" fill="#c0c0c0"/>
<rect x="959" y="630" width="1" height="11" fill="#c0c0c0"/>
<rect x="967" y="630" width="1" height="11" fill="#c0c0c0"/>
<rect x="975" y="629" width="1" height="12" fill="#c0c0c0"/>
<rect x="983" y="629" width="1" height="12" fill="#c0c0c0"/>
<rect x="991" y="628" width="1" height="13" fill="#c0c0c0"/>
<rect x="999" y="628" width="1" height="13" fill="#c0c0c0"/>
<rect x="1007" y="629" width="1" height="12" fill="#c0c0c0"/>
<rect x="1015" y="630" width="1" height="11" fill="#c0c0c0"/>
<rect x="1023" y="632" width="1" height="9" fill="#c0c0c0"/>
<rect x="1031" y="632" width="1" height="9" fill="#c0c0c0"/>
<rect x="1039" y="633" width="1" height="8" fill="#c0c0c0"/>
<rect x="1047" y="634" width="1" height="7" fill="#c0c0c0"/>
<rect x="1055" y="634" width="1" height="7" fill="#c0c0c0"/>
<rect x="1063" y="635" width="1" height="6" fill="#c0c0c0"/>
<rect x="1071" y="636" width="1" height="5" fill="#c0c0c0"/>
<rect x="1079" y="636" width="1" height="5" fill="#c0c0c0"/>
<rect x="1087" y="635" width="1" height="6" fill="#c0c0c0"/>
<rect x="1095" y="633" width="1" height="8" fill="#c0c0c0"/>
<rect x="1103" y="631" width="1" height="10" fill="#c0c0c0"/>
<rect x="1111" y="630" width="1" height="11" fill="#c0c0c0"/>
<rect x="1119" y="629" width="1" height="12" fill="#c0c0c0"/>
<rect x="1127" y="627" width="1" height="14" fill="#c0c0c0"/>
<rect x="1135" y="625" width="1" height="16" fill="#c0c0c0"/>
<rect x="1143" y="624" width="1" height="17" fill="#c0c0c0"/>
<rect x="1151" y="623" width="1" height="18" fill="#c0c0c0"/>
<rect x="1159" y="622" width="1" height="19" fill="#c0c0c0"/>
<rect x="1167" y="622" width="1" height="19" fill="#c0c0c0"/>
<rect x="1175" y="622" width="1" height="19" fill="#c0c0c0"/>
<rect x="1183" y="623" width="1" height="18" fill="#c0c0c0"/>
<rect x="1191" y="624" width="1" height="17" fill="#c0c0c0"/>
<rect x="1199" y="625" width="1" height="16" fill="#c0c0c0"/>
<rect x="1207" y="625" width="1" height="16" fill="#c0c0c0"/>
<rect x="1215" y="625" width="1" height="16" fill="#c0c0c0"/>
<rect x="1223" y="623" width="1" height="18" fill="#c0c0c0"/>
<rect x="1231" y="623" width="1" height="18" fill="#c0c0c0"/>
<rect x="1239" y="622" width="1" height="19" fill="#c0c0c0"/>
<rect x="1247" y="622" width="1" height="19" fill="#c0c0c0"/>
<rect x="1255" y="622" width="1" height="19" fill="#c0c0c0"/>
<rect x="1263" y="621" width="1" height="20" fill="#c0c0c0"/>
<rect x="1271" y="621" width="1" height="20" fill="#c0c0c0"/>
<rect x="1279" y="621" width="1" height="20" fill="#c0c0c0"/>
<rect x="1287" y="620" width="1" height="21" fill="#c0c0c0"/>
<rect x="1295" y="621" width="1" height="20" fill="#c0c0c0"/>
<rect x="1303" y="625" width="1" height="16" fill="#c0c0c0"/>
<rect x="1311" y="627" width="1" height="14" fill="#c0c0c0"/>
<rect x="1319" y="628" width="1" height="13" fill="#c0c0c0"/>
<rect x="1327" y="632" width="1" height="9" fill="#c0c0c0"/>
<rect x="1335" y="633" width="1" height="8" fill="#c0c0c0"/>
<rect x="1343" y="636" width="1" height="5" fill="#c0c0c0"/>
<rect x="1351" y="638" width="1" height="3" fill="#c0c0c0"/>
<rect x="1415" y="640" width="1" height="5" fill="#c0c0c0"/>
<rect x="1423" y="640" width="1" height="5" fill="#c0c0c0"/>
<rect x="1431" y="640" width="1" height="10" fill="#c0c0c0"/>
<rect x="1439" y="640" width="1" height="12" fill="#c0c0c0"/>
<polyline points="0.0,638.0 7.5,642.0 15.5,647.0 23.5,651.2 31.5,655.5 39.5,660.5 47.5,665.0 55.5,668.8 63.5,672.0 71.5,674.5 79.5,676.8 87.5,678.0 95.5,680.5 103.5,683.8 111.5,686.5 119.5,690.8 127.5,695.0 135.5,700.0 143.5,705.5 151.5,710.5 159.5,716.2 167.5,721.2 175.5,725.5 183.5,729.5 191.5,731.5 199.5,730.8 207.5,729.0 215.5,726.2 223.5,722.5 231.5,718.0 239.5,712.0 247.5,705.5 255.5,698.8 263.5,693.0 271.5,688.8 279.5,683.8 287.5,678.2 295.5,674.2 303.5,668.8 311.5,662.5 319.5,657.5 327.5,652.5 335.5,647.5 343.5,642.5 351.5,638.0 359.5,634.5 367.5,631.5 375.5,629.2 383.5,628.0 391.5,627.5 399.5,627.5 415.5,627.0 423.5,626.5 431.5,626.2 467.5,626.8 492.5,628.0 517.5,630.0 542.5,632.0 567.5,633.2 583.5,633.0 599.5,631.2 615.5,629.2 631.5,626.8 642.5,625.0 655.5,622.0 671.5,620.0 685.0,617.0 695.5,614.2 703.5,612.5 711.5,610.8 719.5,609.2 727.5,608.5 735.5,609.2 743.5,610.0 759.5,612.5 767.5,615.0 775.5,618.0 787.5,622.5 799.5,625.8 817.5,628.2 830.0,631.8 840.0,634.5 855.0,636.5 863.5,638.5 887.5,640.0 905.0,639.2 927.5,637.5 943.5,636.2 959.5,634.5 975.5,632.5 991.5,630.8 1007.5,629.2 1020.0,628.2 1031.5,629.2 1045.0,630.0 1063.5,631.2 1071.5,632.5 1087.5,633.2 1103.5,633.2 1119.5,632.5 1127.5,631.2 1143.5,629.5 1151.5,627.5 1159.5,626.2 1167.5,625.5 1175.5,623.8 1191.5,622.5 1217.5,622.5 1225.0,623.2 1255.5,623.0 1271.5,622.5 1287.5,621.5 1315.0,621.5 1327.5,623.2 1345.0,626.2 1352.5,628.8 1365.0,632.0 1380.0,634.5 1395.0,636.5 1410.0,638.5 1425.0,640.5 1436.0,642.5" fill="none" stroke="#ff0000" stroke-width="1" stroke-dasharray="3 3"/>
</g>
<g shape-rendering="crispEdges">
<line x1="0" y1="787.5" x2="1692" y2="787.5" stroke="#c0c0c0" stroke-width="1" stroke-dasharray="3 3"/>
<line x1="0" y1="838.5" x2="1692" y2="838.5" stroke="#c0c0c0" stroke-width="1" stroke-dasharray="3 3"/>
<line x1="0" y1="899.5" x2="1692" y2="899.5" stroke="#c0c0c0" stroke-width="1" stroke-dasharray="3 3"/>
</g>
<polyline points="-0.5,889.0 7.5,898.5 15.5,899.2 23.5,902.5 31.5,860.5 39.5,869.2 47.5,850.5 55.5,858.5 63.5,861.8 71.5,871.2 79.5,874.5 87.5,870.5 95.5,877.5 103.5,890.5 111.5,863.5 119.5,869.2 127.5,875.0 135.5,877.2 143.5,877.5 151.5,880.5 159.5,882.2 167.5,886.5 175.5,878.5 183.5,858.8 191.5,853.0 199.5,841.8 207.5,848.0 215.5,851.8 223.5,842.5 231.5,847.0 239.5,850.8 247.5,848.5 255.5,850.8 263.5,847.5 271.5,834.5 279.5,835.5 287.5,828.5 295.5,826.2 303.5,830.5 311.5,829.5 319.5,825.0 327.5,832.2 335.5,824.5 343.5,824.2 351.5,826.0 359.5,831.8 367.5,838.2 375.5,835.8 383.5,835.5 391.5,830.5 399.5,831.2 407.5,826.8 415.5,826.2 423.5,819.2 431.5,829.2 439.5,835.5 447.5,840.5 455.5,835.5 463.5,832.2 471.5,838.2 479.5,831.0 487.5,826.2 495.5,825.2 503.5,830.5 511.5,842.2 519.5,845.8 527.5,838.2 535.5,840.5 543.5,836.5 551.5,823.5 559.5,830.2 567.5,826.2 575.5,826.0 583.5,827.5 591.5,825.2 599.5,823.2 607.5,818.2 615.5,808.5 623.5,816.2 631.5,814.5 639.5,820.5 647.5,819.5 655.5,811.5 663.5,804.0 671.5,807.5 679.5,797.2 687.5,795.2 695.5,793.5 703.5,798.2 711.5,814.2 719.5,841.5 727.5,838.5 735.5,843.8 743.5,830.2 751.5,828.5 759.5,834.5 767.5,831.5 775.5,840.5 783.5,841.8 791.5,831.2 799.5,833.2 807.5,844.5 815.5,840.5 823.5,849.5 831.5,850.8 839.5,838.5 847.5,837.2 855.5,838.5 863.5,835.5 871.5,837.8 879.5,833.5 887.5,826.5 895.5,835.8 903.5,832.2 911.5,838.5 919.5,832.5 927.5,831.5 935.5,831.5 943.5,818.2 951.5,818.2 959.5,822.2 967.5,825.5 975.5,823.5 983.5,823.5 991.5,819.5 999.5,818.2 1007.5,828.2 1015.5,835.5 1023.5,835.5 1031.5,829.5 1039.5,836.5 1047.5,833.5 1055.5,833.5 1063.5,836.5 1071.5,836.5 1079.5,828.2 1087.5,823.5 1095.5,813.2 1103.5,809.2 1111.5,807.5 1119.5,808.5 1127.5,800.5 1135.5,801.5 1143.5,797.2 1151.5,797.2 1159.5,802.2 1167.5,800.5 1175.5,803.2 1183.5,808.5 1191.5,819.2 1199.5,813.5 1207.5,810.5 1215.5,808.5 1223.5,798.5 1231.5,804.2 1239.5,801.0 1247.5,796.2 1255.5,795.2 1263.5,792.5 1271.5,811.2 1279.5,804.2 1287.5,796.5 1295.5,833.0 1303.5,835.5 1311.5,835.5 1319.5,828.5 1327.5,851.8 1335.5,836.5 1343.5,845.5 1351.5,845.2 1359.5,840.5 1367.5,836.2 1375.5,839.5 1383.5,837.2 1391.5,841.2 1399.5,846.2 1407.5,847.8 1415.5,858.0 1423.5,853.0 1431.5,865.5 1439.5,861.0" fill="none" stroke="#1e90ff" stroke-width="1" stroke-linejoin="round"/>
<g shape-rendering="crispEdges" fill="#000">
<rect x="0" y="24" width="1693" height="1"/>
<rect x="1692" y="24" width="1" height="902"/>
<rect x="0" y="591" width="1693" height="1"/>
<rect x="0" y="593" width="1693" height="1"/>
<rect x="0" y="749" width="1693" height="1"/>
<rect x="0" y="751" width="1693" height="1"/>
<rect x="0" y="925" width="1693" height="1"/>
<rect x="1692" y="592" width="1" height="1" fill="#fff"/>
<rect x="1692" y="750" width="1" height="1" fill="#fff"/>
<rect x="1693" y="27" width="2" height="1"/>
<rect x="1693" y="60" width="2" height="1"/>
<rect x="1693" y="93" width="2" height="1"/>
<rect x="1693" y="126" width="2" height="1"/>
<rect x="1693" y="159" width="2" height="1"/>
<rect x="1693" y="192" width="2" height="1"/>
<rect x="1693" y="225" width="2" height="1"/>
<rect x="1693" y="258" width="2" height="1"/>
<rect x="1693" y="291" width="2" height="1"/>
<rect x="1693" y="324" width="2" height="1"/>
<rect x="1693" y="357" width="2" height="1"/>
<rect x="1693" y="390" width="2" height="1"/>
<rect x="1693" y="423" width="2" height="1"/>
<rect x="1693" y="456" width="2" height="1"/>
<rect x="1693" y="489" width="2" height="1"/>
<rect x="1693" y="522" width="2" height="1"/>
<rect x="1693" y="555" width="2" height="1"/>
<rect x="1693" y="588" width="2" height="1"/>
<rect x="1693" y="595" width="2" height="1"/><rect x="1693" y="640" width="2" height="1"/><rect x="1693" y="747" width="2" height="1"/>
<rect x="63" y="926" width="1" height="3"/>
<rect x="127" y="926" width="1" height="3"/>
<rect x="191" y="926" width="1" height="3"/>
<rect x="255" y="926" width="1" height="3"/>
<rect x="319" y="926" width="1" height="3"/>
<rect x="383" y="926" width="1" height="3"/>
<rect x="447" y="926" width="1" height="3"/>
<rect x="511" y="926" width="1" height="3"/>
<rect x="575" y="926" width="1" height="3"/>
<rect x="639" y="926" width="1" height="3"/>
<rect x="703" y="926" width="1" height="3"/>
<rect x="767" y="926" width="1" height="3"/>
<rect x="831" y="926" width="1" height="3"/>
<rect x="895" y="926" width="1" height="3"/>
<rect x="959" y="926" width="1" height="3"/>
<rect x="1023" y="926" width="1" height="3"/>
<rect x="1087" y="926" width="1" height="3"/>
<rect x="1151" y="926" width="1" height="3"/>
<rect x="1215" y="926" width="1" height="3"/>
<rect x="1279" y="926" width="1" height="3"/>
<rect x="1343" y="926" width="1" height="3"/>
<rect x="1407" y="926" width="1" height="3"/>
</g>
<g class="s">
<text class="s" x="1698" y="30.9" textLength="32.6" lengthAdjust="spacingAndGlyphs">29693.0</text>
<text class="s" x="1698" y="63.9" textLength="32.6" lengthAdjust="spacingAndGlyphs">29000.0</text>
<text class="s" x="1698" y="96.9" textLength="32.6" lengthAdjust="spacingAndGlyphs">28307.0</text>
<text class="s" x="1698" y="129.9" textLength="32.6" lengthAdjust="spacingAndGlyphs">27593.0</text>
<text class="s" x="1698" y="162.9" textLength="32.6" lengthAdjust="spacingAndGlyphs">26900.0</text>
<text class="s" x="1698" y="195.9" textLength="32.6" lengthAdjust="spacingAndGlyphs">26207.0</text>
<text class="s" x="1698" y="228.9" textLength="32.6" lengthAdjust="spacingAndGlyphs">25493.0</text>
<text class="s" x="1698" y="261.9" textLength="32.6" lengthAdjust="spacingAndGlyphs">24800.0</text>
<text class="s" x="1698" y="294.9" textLength="32.6" lengthAdjust="spacingAndGlyphs">24107.0</text>
<text class="s" x="1698" y="327.9" textLength="32.6" lengthAdjust="spacingAndGlyphs">23393.0</text>
<text class="s" x="1698" y="360.9" textLength="32.6" lengthAdjust="spacingAndGlyphs">22700.0</text>
<text class="s" x="1698" y="393.9" textLength="32.6" lengthAdjust="spacingAndGlyphs">22007.0</text>
<text class="s" x="1698" y="426.9" textLength="32.6" lengthAdjust="spacingAndGlyphs">21293.0</text>
<text class="s" x="1698" y="459.9" textLength="32.6" lengthAdjust="spacingAndGlyphs">20600.0</text>
<text class="s" x="1698" y="492.9" textLength="32.6" lengthAdjust="spacingAndGlyphs">19907.0</text>
<text class="s" x="1698" y="525.9" textLength="32.6" lengthAdjust="spacingAndGlyphs">19193.0</text>
<text class="s" x="1698" y="558.9" textLength="32.6" lengthAdjust="spacingAndGlyphs">18500.0</text>
<text class="s" x="1698" y="591.9" textLength="32.6" lengthAdjust="spacingAndGlyphs">17807.0</text>
</g>
<rect x="1694" y="109" width="41" height="11" fill="#ff0000" shape-rendering="crispEdges"/>
<text class="w" x="1698" y="118.2" textLength="32.5" lengthAdjust="spacingAndGlyphs">27827.5</text>
<rect x="1694" y="130" width="41" height="11" fill="#ff0000" shape-rendering="crispEdges"/>
<text class="w" x="1698" y="139.2" textLength="32.5" lengthAdjust="spacingAndGlyphs">27382.6</text>
<rect x="1694" y="148" width="41" height="11" fill="#32cd32" shape-rendering="crispEdges"/>
<text class="w" x="1698" y="157.2" textLength="32.5" lengthAdjust="spacingAndGlyphs">27001.3</text>
<rect x="1694" y="159" width="41" height="11" fill="#000000" shape-rendering="crispEdges"/>
<text class="w" x="1698" y="168.2" textLength="32.5" lengthAdjust="spacingAndGlyphs">26778.0</text>
<rect x="1694" y="181" width="41" height="11" fill="#0000ff" shape-rendering="crispEdges"/>
<text class="w" x="1698" y="190.2" textLength="32.5" lengthAdjust="spacingAndGlyphs">26302.2</text>
<rect x="1694" y="200" width="41" height="11" fill="#0000ff" shape-rendering="crispEdges"/>
<text class="w" x="1698" y="209.2" textLength="32.5" lengthAdjust="spacingAndGlyphs">25899.7</text>
<text class="s" x="1696.4" y="604.1" textLength="32.5" lengthAdjust="spacingAndGlyphs">1024.52</text>
<text class="s" x="1696.4" y="643.7" textLength="17.6" lengthAdjust="spacingAndGlyphs">0.00</text>
<text class="s" x="1696.4" y="745.7" textLength="36" lengthAdjust="spacingAndGlyphs">-2433.25</text>
<text class="s" x="1696" y="761.9" textLength="14.5" lengthAdjust="spacingAndGlyphs">100</text>
<text class="s" x="1696" y="790.9" textLength="9.7" lengthAdjust="spacingAndGlyphs">80</text>
<text class="s" x="1696" y="841.9" textLength="9.7" lengthAdjust="spacingAndGlyphs">50</text>
<text class="s" x="1696" y="903.0" textLength="9.7" lengthAdjust="spacingAndGlyphs">15</text>
<text class="s" x="1696" y="922.3" textLength="4.8" lengthAdjust="spacingAndGlyphs">0</text>
<text class="s" transform="translate(-2,938.4) scale(0.93,1)">26 Feb 2020</text>
<text class="s" transform="translate(62,938.4) scale(0.93,1)">6 Mar 2020</text>
<text class="s" transform="translate(126,938.4) scale(0.93,1)">16 Mar 2020</text>
<text class="s" transform="translate(190,938.4) scale(0.93,1)">25 Mar 2020</text>
<text class="s" transform="translate(254,938.4) scale(0.93,1)">3 Apr 2020</text>
<text class="s" transform="translate(318,938.4) scale(0.93,1)">14 Apr 2020</text>
<text class="s" transform="translate(382,938.4) scale(0.93,1)">23 Apr 2020</text>
<text class="s" transform="translate(446,938.4) scale(0.93,1)">3 May 2020</text>
<text class="s" transform="translate(510,938.4) scale(0.93,1)">12 May 2020</text>
<text class="s" transform="translate(574,938.4) scale(0.93,1)">21 May 2020</text>
<text class="s" transform="translate(638,938.4) scale(0.93,1)">31 May 2020</text>
<text class="s" transform="translate(702,938.4) scale(0.93,1)">9 Jun 2020</text>
<text class="s" transform="translate(766,938.4) scale(0.93,1)">18 Jun 2020</text>
<text class="s" transform="translate(830,938.4) scale(0.93,1)">28 Jun 2020</text>
<text class="s" transform="translate(894,938.4) scale(0.93,1)">7 Jul 2020</text>
<text class="s" transform="translate(958,938.4) scale(0.93,1)">16 Jul 2020</text>
<text class="s" transform="translate(1022,938.4) scale(0.93,1)">26 Jul 2020</text>
<text class="s" transform="translate(1086,938.4) scale(0.93,1)">4 Aug 2020</text>
<text class="s" transform="translate(1150,938.4) scale(0.93,1)">13 Aug 2020</text>
<text class="s" transform="translate(1214,938.4) scale(0.93,1)">23 Aug 2020</text>
<text class="s" transform="translate(1278,938.4) scale(0.93,1)">1 Sep 2020</text>
<text class="s" transform="translate(1342,938.4) scale(0.93,1)">10 Sep 2020</text>
<text class="s" transform="translate(1406,938.4) scale(0.93,1)">20 Sep 2020</text>
<text class="s" x="3" y="605.5" textLength="129" lengthAdjust="spacingAndGlyphs">MACD(12,26,9) -233.40 -60.20</text>
<text class="s" x="3" y="764" textLength="68" lengthAdjust="spacingAndGlyphs">RSI(14) 37.5282</text>
<polygon points="2,35.5 9.5,35.5 5.75,31.5" fill="#000"/>
<text class="s" x="14.4" y="36.3" textLength="195.6" lengthAdjust="spacingAndGlyphs" xml:space="preserve">DJ30-,Daily  26579.0 26966.0 26406.0 26778.0</text>
<polygon points="1448.7,25 1458.3,25 1453.5,30" fill="#c0c0c0"/>
<g>
<rect x="1" y="43" width="221" height="66" fill="#fff"/>
<rect x="2" y="44" width="52" height="25" fill="url(#r1)"/>
<rect x="169" y="44" width="52" height="25" fill="url(#r1)"/>
<rect x="2" y="68" width="109" height="40" fill="url(#r2)"/>
<rect x="113" y="68" width="108" height="40" fill="url(#r2)"/>
<rect x="6" y="67.6" width="44" height="0.9" fill="#f59090"/>
<rect x="173" y="67.6" width="44" height="0.9" fill="#f59090"/>
<rect x="2" y="44" width="52" height="1" fill="#c82828" opacity="0.6"/><rect x="169" y="44" width="52" height="1" fill="#c82828" opacity="0.6"/>
<rect x="56.5" y="44.5" width="110" height="21" fill="#fff" stroke="#a8a8a8" stroke-width="1"/>
<rect x="58" y="46" width="19" height="18" fill="url(#gb)" stroke="#c0c0c0" stroke-width="0.6"/>
<rect x="146" y="46" width="19" height="18" fill="url(#gb)" stroke="#c0c0c0" stroke-width="0.6"/>
<polygon points="64.5,52.8 69.5,52.8 67,55.8" fill="#4858b8"/>
<polygon points="153,55.8 158,55.8 155.5,52.8" fill="#4858b8"/>
<text x="118.8" y="58.4" font-size="11.2" fill="#000" textLength="22.7" lengthAdjust="spacingAndGlyphs">1.00</text>
<text x="14.4" y="60" font-size="11.6" fill="#fff" textLength="25.4" lengthAdjust="spacingAndGlyphs">SELL</text>
<text x="182.6" y="60" font-size="11.6" fill="#fff" textLength="22.4" lengthAdjust="spacingAndGlyphs">BUY</text>
<text x="18.4" y="98.8" font-size="12" font-weight="bold" fill="#fff" textLength="34.3" lengthAdjust="spacingAndGlyphs">26776</text>
<text x="128.2" y="98.8" font-size="12" font-weight="bold" fill="#fff" textLength="34.3" lengthAdjust="spacingAndGlyphs">26786</text>
<text x="55.4" y="99.2" font-size="34" fill="#fff" textLength="25.5" lengthAdjust="spacingAndGlyphs">.5</text>
<text x="166.4" y="99.2" font-size="34" fill="#fff" textLength="25.5" lengthAdjust="spacingAndGlyphs">.5</text>
</g>
<rect x="0" y="0" width="1738" height="20" fill="#f0f0f0"/>
<rect x="0" y="19" width="1738" height="1" fill="#f6f6f6"/><rect x="0" y="20" width="1738" height="1" fill="#a4a4a4"/><rect x="0" y="21" width="1738" height="1" fill="#6c6c6c"/>
<g id="toolbar">
<defs>
<linearGradient id="gold" x1="0" y1="0" x2="1" y2="1"><stop offset="0" stop-color="#f6dc6a"/><stop offset="1" stop-color="#c8901c"/></linearGradient>
<linearGradient id="grn" x1="0" y1="0" x2="0" y2="1"><stop offset="0" stop-color="#5ee05e"/><stop offset="1" stop-color="#0a9a0a"/></linearGradient>
<linearGradient id="blu" x1="0" y1="0" x2="0" y2="1"><stop offset="0" stop-color="#5aa0ee"/><stop offset="1" stop-color="#1c58c0"/></linearGradient>
<radialGradient id="lens" cx="0.4" cy="0.35" r="0.7"><stop offset="0" stop-color="#eef8ff"/><stop offset="1" stop-color="#a8d0f0"/></radialGradient>
<pattern id="dots" width="2" height="2" patternUnits="userSpaceOnUse"><rect width="2" height="2" fill="#f8f8f8"/><rect width="1" height="1" fill="#ececec"/><rect x="1" y="1" width="1" height="1" fill="#ececec"/></pattern>
</defs>
<rect x="-1" y="1.6" width="16" height="13.2" rx="1.2" fill="#fff" stroke="#3a7ccc" stroke-width="1.1"/>
<rect x="-1" y="13.6" width="16" height="1.3" fill="#2e6cc0"/>
<rect x="-1" y="2" width="4.2" height="12" fill="#4a8cdc"/><rect x="2" y="3" width="1.2" height="6" fill="#222"/><rect x="2" y="9.5" width="1.2" height="3.5" fill="#667"/>
<rect x="5" y="3.0" width="1.3" height="1.3" fill="#e02020"/><rect x="7" y="3.4" width="7" height="0.7" fill="#b8c8f0"/>
<rect x="5" y="5.9" width="1.3" height="1.3" fill="#205020"/><rect x="7" y="6.3" width="7" height="0.7" fill="#b8c8f0"/>
<rect x="5" y="8.8" width="1.3" height="1.3" fill="#205020"/><rect x="7" y="9.2" width="7" height="0.7" fill="#b8c8f0"/>
<rect x="5" y="11.7" width="1.3" height="1.3" fill="#e02020"/><rect x="7" y="12.1" width="7" height="0.7" fill="#b8c8f0"/>
<rect x="28.5" y="1" width="12" height="12.5" fill="#fafafa" stroke="#b8b0a0" stroke-width="0.8"/>
<path d="M31,3 V9 M33.5,4 V10 M36,3 V8 M38.5,2.5 V7" stroke="#888" stroke-width="0.9"/>
<line x1="38.5" y1="11.5" x2="44.5" y2="16.5" stroke="#c8a020" stroke-width="2.2"/>
<circle cx="35.5" cy="8.3" r="4.6" fill="#cfe4f6" fill-opacity="0.85" stroke="#6c9cd8" stroke-width="1"/>
<rect x="53" y="0" width="1" height="18" fill="#a0a0a0"/><rect x="54" y="0" width="1" height="18" fill="#fcfcfc"/>
<path d="M63.5,0.5 H71.5 L74.5,3.5 V13.5 H63.5 Z" fill="#fdfdfd" stroke="#9a9a9a" stroke-width="0.9"/>
<path d="M65.5,3 H68.5 M65.5,6 H71 M65.5,8.5 H70" stroke="#9a9a9a" stroke-width="0.9"/>
<path d="M71.5,7 H75 V10.5 H78.7 V14 H75 V17.6 H71.5 V14 H67.8 V10.5 H71.5 Z" fill="url(#grn)" stroke="#0b7a0b" stroke-width="0.7"/>
<text x="81.8" y="11" font-size="12" fill="#000" stroke="#000" stroke-width="0.25">新订单</text>
<path d="M135.5,1.2 L145.6,8.3 L139.8,15.6 L130,9.4 Z" fill="url(#gold)" stroke="#a87414" stroke-width="0.9"/>
<path d="M130.3,10.5 L139.6,16.3 L145.6,9.3" fill="none" stroke="#8a5c10" stroke-width="0.9"/>
<rect x="160.5" y="-1" width="10.5" height="10" fill="url(#blu)" stroke="#2c6cc0" stroke-width="0.8"/>
<rect x="163.5" y="2.5" width="6" height="5" fill="#d8ecff"/>
<path d="M160.5,15.3 a3,3 0 0 1 0.6,-5.9 a3.6,3.6 0 0 1 6.6,-1.2 a3,3 0 0 1 4.4,2 a2.6,2.6 0 0 1 -0.4,5.1 Z" fill="#eaf2fc" stroke="#6a90c8" stroke-width="0.9"/>
<circle cx="193.7" cy="7.5" r="7.3" fill="none" stroke="#6a90d0" stroke-width="1.1" opacity="0.35"/>
<circle cx="193.7" cy="7.5" r="5.2" fill="none" stroke="#6a90d0" stroke-width="1.1" opacity="0.6"/>
<circle cx="193.7" cy="7.5" r="3.1" fill="none" stroke="#6a90d0" stroke-width="1.1" opacity="0.85"/>
<path d="M194.3,15.2 A7.6,7.6 0 0 0 201.2,7.5 L199,7.5 A5.3,5.3 0 0 1 194.3,12.8 Z" fill="#3cb83c"/>
<rect x="193.7" y="8" width="1.3" height="7.4" fill="#2e9e2e"/>
<circle cx="193.7" cy="7.5" r="1.6" fill="#2858c8"/>
<path d="M214,6.5 L220,15 L227,11 L228.5,6.5 Z" fill="#f4d040" stroke="#c8a020" stroke-width="0.7"/>
<ellipse cx="221" cy="4.6" rx="7.8" ry="2.6" fill="#5c9cdc" stroke="#3a78c0" stroke-width="0.6"/>
<path d="M217.2,4 Q218,-0.5 221,-0.8 Q224,-0.5 224.8,4 Z" fill="#6aa8e4"/>
<circle cx="225.4" cy="11.6" r="3.9" fill="#e03018"/><rect x="223.9" y="10.1" width="3" height="3" fill="#fff"/>
<text x="234.5" y="11" font-size="12" fill="#000" stroke="#000" stroke-width="0.25">自动交易</text>
<rect x="289" y="0" width="1" height="18" fill="#a0a0a0"/><rect x="290" y="0" width="1" height="18" fill="#fcfcfc"/>
<rect x="293" y="0" width="3" height="1" fill="#a8a8a8"/>
<rect x="293" y="2" width="3" height="1" fill="#a8a8a8"/>
<rect x="293" y="4" width="3" height="1" fill="#a8a8a8"/>
<rect x="293" y="6" width="3" height="1" fill="#a8a8a8"/>
<rect x="293" y="8" width="3" height="1" fill="#a8a8a8"/>
<rect x="293" y="10" width="3" height="1" fill="#a8a8a8"/>
<rect x="293" y="12" width="3" height="1" fill="#a8a8a8"/>
<rect x="293" y="14" width="3" height="1" fill="#a8a8a8"/>
<rect x="293" y="16" width="3" height="1" fill="#a8a8a8"/>
<path d="M307.5,2.5 V16 M305,13.7 H318.5 M306,4.5 L307.5,2.5 L309,4.5 M316.8,12.2 L318.5,13.7 L316.8,15.2" stroke="#4a4a4a" stroke-width="1" fill="none"/>
<path d="M313.8,4 V11 M313.8,4.5 H316 M311.5,10.5 H313.8" stroke="#18a018" stroke-width="1.2" fill="none"/>
<rect x="327" y="0" width="25" height="18.5" fill="url(#dots)"/>
<rect x="327" y="0" width="1" height="18.5" fill="#909090"/>
<path d="M335.7,2.5 V16 M333.2,13.7 H346.7 M334.2,4.5 L335.7,2.5 L337.2,4.5 M345.0,12.2 L346.7,13.7 L345.0,15.2" stroke="#4a4a4a" stroke-width="1" fill="none"/>
<rect x="341" y="0" width="1" height="11.5" fill="#0b7a0b"/><rect x="339.4" y="2.7" width="4.2" height="7" fill="#2fd02f" stroke="#0b8a0b" stroke-width="0.8"/>
<path d="M363.5,2.5 V16 M361,13.7 H374.5 M362,4.5 L363.5,2.5 L365,4.5 M372.8,12.2 L374.5,13.7 L372.8,15.2" stroke="#4a4a4a" stroke-width="1" fill="none"/>
<path d="M362.2,10.7 Q365,9.5 366.5,6.5 Q368.3,3.6 370.5,5.8 Q372,8 374,9.2" stroke="#2a9a2a" stroke-width="1.1" fill="none"/>
<rect x="384" y="0" width="1" height="18" fill="#a0a0a0"/><rect x="385" y="0" width="1" height="18" fill="#fcfcfc"/>
<line x1="402.6" y1="9.8" x2="408.2" y2="14.9" stroke="#d8a820" stroke-width="2.4" stroke-linecap="round"/>
<line x1="403.6" y1="11.6" x2="407.8" y2="15.4" stroke="#a07810" stroke-width="0.7"/>
<circle cx="398.8" cy="6" r="5.2" fill="url(#lens)" stroke="#3f8ad8" stroke-width="1.3"/>
<rect x="396.0" y="5.3" width="5.6" height="1.5" fill="#2c74c8"/>
<rect x="398.05" y="3.2" width="1.5" height="5.6" fill="#2c74c8"/>
<line x1="431.0" y1="9.8" x2="436.59999999999997" y2="14.9" stroke="#d8a820" stroke-width="2.4" stroke-linecap="round"/>
<line x1="432.0" y1="11.6" x2="436.2" y2="15.4" stroke="#a07810" stroke-width="0.7"/>
<circle cx="427.2" cy="6" r="5.2" fill="url(#lens)" stroke="#3f8ad8" stroke-width="1.3"/>
<rect x="424.4" y="5.3" width="5.6" height="1.5" fill="#2c74c8"/>
<rect x="449" y="-0.5" width="7.7" height="7.7" rx="0.8" fill="#3aa020"/>
<rect x="450.3" y="2.4" width="5.1" height="3.6" fill="#f4f8ff"/><rect x="451.2" y="4.2" width="3.3" height="0.8" fill="#3aa020"/>
<rect x="457.3" y="-0.5" width="7.7" height="7.7" rx="0.8" fill="#2860d0"/>
<rect x="458.6" y="2.4" width="5.1" height="3.6" fill="#f4f8ff"/><rect x="459.5" y="4.2" width="3.3" height="0.8" fill="#2860d0"/>
<rect x="449" y="7.3" width="7.7" height="7.7" rx="0.8" fill="#2860d0"/>
<rect x="450.3" y="10.2" width="5.1" height="3.6" fill="#f4f8ff"/><rect x="451.2" y="12.0" width="3.3" height="0.8" fill="#2860d0"/>
<rect x="457.3" y="7.3" width="7.7" height="7.7" rx="0.8" fill="#3aa020"/>
<rect x="458.6" y="10.2" width="5.1" height="3.6" fill="#f4f8ff"/><rect x="459.5" y="12.0" width="3.3" height="0.8" fill="#3aa020"/>
<rect x="474" y="0" width="1" height="18" fill="#a0a0a0"/><rect x="475" y="0" width="1" height="18" fill="#fcfcfc"/>
<rect x="479" y="0" width="25" height="18.5" fill="url(#dots)"/>
<rect x="479" y="0" width="1" height="18.5" fill="#909090"/>
<path d="M487.5,2.5 V16 M485,13.7 H498.5 M486,4.5 L487.5,2.5 L489,4.5 M496.8,12.2 L498.5,13.7 L496.8,15.2" stroke="#4a4a4a" stroke-width="1" fill="none"/>
<polygon points="492.4,4.4 492.4,10.6 496.2,7.5" fill="#58d058" stroke="#18a018" stroke-width="0.8"/>
<rect x="507" y="0" width="25" height="18.5" fill="url(#dots)"/>
<rect x="507" y="0" width="1" height="18.5" fill="#909090"/>
<path d="M515.5,2.5 V16 M513,13.7 H526.5 M514,4.5 L515.5,2.5 L517,4.5 M524.8,12.2 L526.5,13.7 L524.8,15.2" stroke="#4a4a4a" stroke-width="1" fill="none"/>
<rect x="521" y="2" width="1.1" height="9.8" fill="#2060c0"/>
<path d="M522.6,7.5 H527 M522.6,7.5 L525,5.4 M522.6,7.5 L525,9.6" stroke="#e03010" stroke-width="1" fill="none"/>
<rect x="536" y="0" width="1" height="18" fill="#a0a0a0"/><rect x="537" y="0" width="1" height="18" fill="#fcfcfc"/>
<path d="M546.8,1.2 H554.5 L557.5,4 V13 H546.8 Z" fill="#fbfbfb" stroke="#9a9a9a" stroke-width="0.9"/>
<path d="M549.3,4 V10 M549.3,6 H551 M549.3,9 H548" stroke="#888" stroke-width="0.8" fill="none"/>
<path d="M554.5,6.4 H558 V10 H561.8 V13.5 H558 V17.2 H554.5 V13.5 H550.7 V10 H554.5 Z" fill="url(#grn)" stroke="#0b7a0b" stroke-width="0.7"/>
<polygon points="568,7.2 573.2,7.2 570.6,9.8" fill="#000"/>
<circle cx="592" cy="8" r="7.2" fill="#fff" stroke="url(#blu)" stroke-width="2.2"/>
<circle cx="592" cy="8" r="5.6" fill="#f2f6fc"/>
<path d="M592,4 V8.3 H595" stroke="#555" stroke-width="1" fill="none"/>
<polygon points="607,7.2 612.2,7.2 609.6,9.8" fill="#000"/>
<rect x="623.3" y="1.4" width="15.6" height="13.2" rx="1" fill="#fff" stroke="#2c6cd0" stroke-width="1.2"/>
<rect x="623.3" y="1.4" width="15.6" height="2.2" fill="#3c7cdc"/>
<path d="M625,7.4 L628,6.2 L630,6.8 L633,5.2 L635,5.8 L637.4,5" stroke="#b03818" stroke-width="1" fill="none"/>
<path d="M625,12.2 L628,11 L630,11.8 L633,10 L635,11.2 L637.4,12" stroke="#28a028" stroke-width="1" fill="none"/>
<rect x="624" y="8.4" width="14.2" height="0.6" fill="#c8d4ec"/>
<polygon points="646,7.2 651.2,7.2 648.6,9.8" fill="#000"/>
<rect x="656" y="0" width="1" height="18" fill="#a0a0a0"/><rect x="657" y="0" width="1" height="18" fill="#fcfcfc"/>
<rect x="661" y="0" width="3" height="1" fill="#a8a8a8"/>
<rect x="661" y="2" width="3" height="1" fill="#a8a8a8"/>
<rect x="661" y="4" width="3" height="1" fill="#a8a8a8"/>
<rect x="661" y="6" width="3" height="1" fill="#a8a8a8"/>
<rect x="661" y="8" width="3" height="1" fill="#a8a8a8"/>
<rect x="661" y="10" width="3" height="1" fill="#a8a8a8"/>
<rect x="661" y="12" width="3" height="1" fill="#a8a8a8"/>
<rect x="661" y="14" width="3" height="1" fill="#a8a8a8"/>
<rect x="661" y="16" width="3" height="1" fill="#a8a8a8"/>
<rect x="667" y="0" width="25.5" height="18.5" fill="url(#dots)"/>
<rect x="667" y="0" width="1" height="18.5" fill="#909090"/>
<polygon points="675.5,1.4 675.5,12.1 678.2,9.8 680.5,15 682.1,14.1 679.8,9.2 683.6,8.6" fill="#3c3c3c"/>
<path d="M700,8.4 H706 M709,8.4 H715 M707.5,1.2 V7 M707.5,10 V16" stroke="#4a4a4a" stroke-width="1" fill="none"/><rect x="707" y="8" width="1" height="1" fill="#4a4a4a"/>
<rect x="724" y="0" width="1" height="18" fill="#a0a0a0"/><rect x="725" y="0" width="1" height="18" fill="#fcfcfc"/>
<rect x="741" y="2" width="1.1" height="13" fill="#4a4a4a"/>
<rect x="764" y="7.9" width="12" height="1.1" fill="#4a4a4a"/>
<line x1="791.8" y1="14.7" x2="803.8" y2="2.9" stroke="#4a4a4a" stroke-width="1.1"/>
<path d="M818.2,10.4 L829.2,1.7 M820,14.7 L831.5,5.8 M821,8.2 L822.5,12.8 M823.8,6 L825.3,10.6 M826.6,3.8 L828.1,8.4 M829.2,0 V3" stroke="#4a4a4a" stroke-width="1" fill="none"/>
<text x="828.8" y="16.8" font-size="6.5" font-weight="bold" fill="#4a4a4a">E</text>
<line x1="847" y1="1.4" x2="860" y2="1.4" stroke="#4a4a4a" stroke-width="1" stroke-dasharray="1 1"/>
<line x1="847" y1="4.6" x2="860" y2="4.6" stroke="#4a4a4a" stroke-width="1" stroke-dasharray="1 1"/>
<line x1="847" y1="8.3" x2="860" y2="8.3" stroke="#4a4a4a" stroke-width="1" stroke-dasharray="1 1"/>
<line x1="847" y1="12.1" x2="856" y2="12.1" stroke="#4a4a4a" stroke-width="1" stroke-dasharray="1 1"/>
<text x="857" y="16.8" font-size="6.5" font-weight="bold" fill="#4a4a4a">F</text>
<text x="877.6" y="12.4" font-size="12" font-weight="bold" fill="#5a5a5a">A</text>
<rect x="904.4" y="2.2" width="11.2" height="12.4" fill="none" stroke="#4a4a4a" stroke-width="1" stroke-dasharray="1 1"/>
<text x="906.2" y="12.4" font-size="10.5" font-weight="bold" fill="#5a5a5a">T</text>
<polygon points="934.2,2.2 937.2,5 934.2,7.4 931.2,5" fill="#4a4a4a"/><polygon points="941.8,9.6 945,12.2 941.8,14.8 938.6,12.2" fill="#4a4a4a"/>
<path d="M933.4,9 L935.6,11.4 L940.6,5.4" stroke="#4a4a4a" stroke-width="1.2" fill="none"/>
<polygon points="951.7,7.2 956.9000000000001,7.2 954.3000000000001,9.8" fill="#000"/>
<rect x="963" y="0" width="1" height="18" fill="#a0a0a0"/><rect x="964" y="0" width="1" height="18" fill="#fcfcfc"/>
<rect x="967" y="0" width="3" height="1" fill="#a8a8a8"/>
<rect x="967" y="2" width="3" height="1" fill="#a8a8a8"/>
<rect x="967" y="4" width="3" height="1" fill="#a8a8a8"/>
<rect x="967" y="6" width="3" height="1" fill="#a8a8a8"/>
<rect x="967" y="8" width="3" height="1" fill="#a8a8a8"/>
<rect x="967" y="10" width="3" height="1" fill="#a8a8a8"/>
<rect x="967" y="12" width="3" height="1" fill="#a8a8a8"/>
<rect x="967" y="14" width="3" height="1" fill="#a8a8a8"/>
<rect x="967" y="16" width="3" height="1" fill="#a8a8a8"/>
<rect x="1141" y="0" width="26" height="18.5" fill="url(#dots)"/>
<rect x="1141" y="0" width="1" height="18.5" fill="#909090"/>
<text x="985" y="11.6" font-size="9.2" fill="#4e4e4e" text-anchor="middle">M1</text>
<text x="1013" y="11.6" font-size="9.2" fill="#4e4e4e" text-anchor="middle">M5</text>
<text x="1041" y="11.6" font-size="9.2" fill="#4e4e4e" text-anchor="middle">M15</text>
<text x="1069" y="11.6" font-size="9.2" fill="#4e4e4e" text-anchor="middle">M30</text>
<text x="1097" y="11.6" font-size="9.2" fill="#4e4e4e" text-anchor="middle">H1</text>
<text x="1124.5" y="11.6" font-size="9.2" fill="#4e4e4e" text-anchor="middle">H4</text>
<text x="1153.5" y="11.6" font-size="9.2" fill="#4e4e4e" text-anchor="middle">D1</text>
<text x="1182" y="11.6" font-size="9.2" fill="#4e4e4e" text-anchor="middle">W1</text>
<text x="1208.5" y="11.6" font-size="9.2" fill="#4e4e4e" text-anchor="middle">MN</text>
<rect x="1224" y="0" width="1" height="18" fill="#a0a0a0"/><rect x="1225" y="0" width="1" height="18" fill="#fcfcfc"/>
<line x1="1690.6" y1="9.2" x2="1686.6" y2="13.2" stroke="#1c50c0" stroke-width="2.1" stroke-linecap="round"/>
<circle cx="1694.6" cy="5" r="3.7" fill="#f4f8ff" stroke="#2858c8" stroke-width="1.3"/>
<ellipse cx="1727" cy="5" rx="6.3" ry="5.4" fill="#eef0f4" stroke="#9a9aa2" stroke-width="1"/>
<path d="M1729,9.6 L1730.6,12 L1726.6,10" fill="#e4e6ea" stroke="#a8a8b0" stroke-width="0.6"/>
<ellipse cx="1718" cy="9.2" rx="5" ry="3.9" fill="#f4f5f8" stroke="#9a9aa2" stroke-width="1"/>
<path d="M1715.4,12.2 L1715,14.6 L1718.4,12.8" fill="#eceef2" stroke="#a8a8b0" stroke-width="0.6"/>
</g>
</svg></body></html>
